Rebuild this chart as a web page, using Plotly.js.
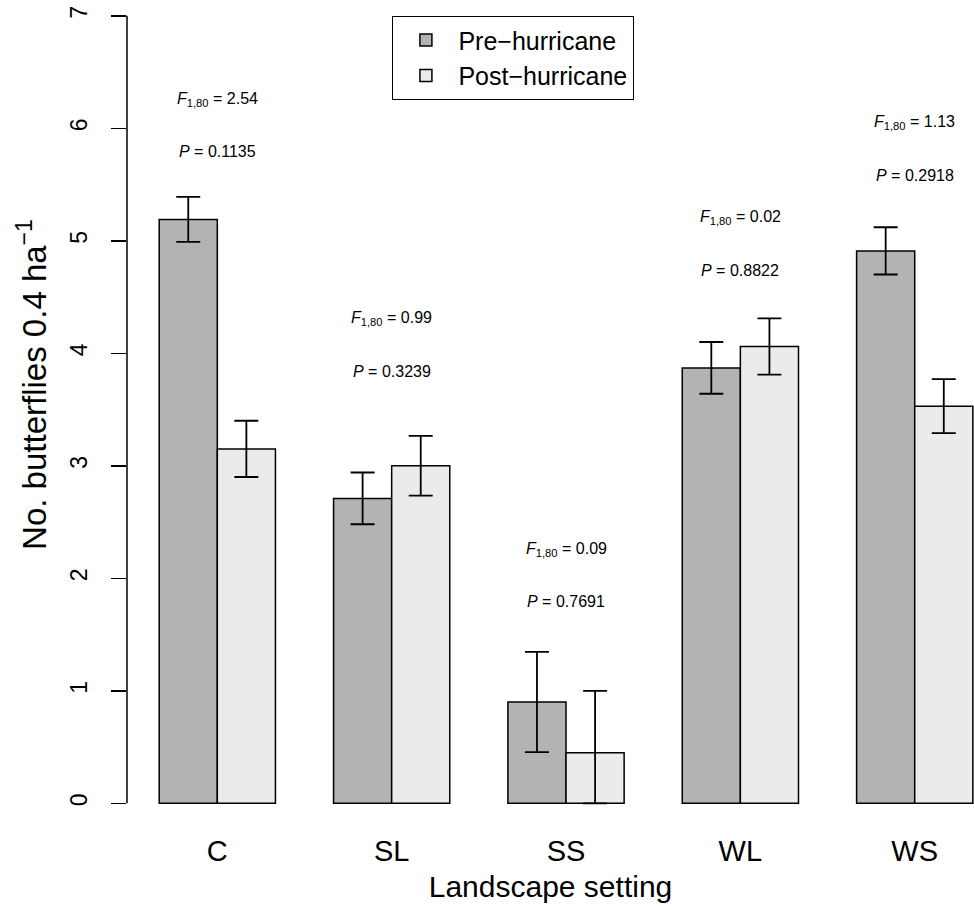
<!DOCTYPE html>
<html>
<head>
<meta charset="utf-8">
<script src="https://cdn.plot.ly/plotly-3.0.1.min.js"></script>
<style>html,body{margin:0;padding:0;background:#fff;}#chart{width:974px;height:910px;}</style>
</head>
<body>
<div id="chart"></div>
<script>
// ---- data ----
const categories = ['C', 'SL', 'SS', 'WL', 'WS'];
const seriesNames = ['Pre\u2212hurricane', 'Post\u2212hurricane'];
const preMean = [5.19, 2.71, 0.90, 3.87, 4.91];
const preErrUp = [0.20, 0.23, 0.445, 0.23, 0.21];
const preErrDown = [0.20, 0.23, 0.445, 0.23, 0.21];
const postMean = [3.15, 3.00, 0.45, 4.06, 3.53];
const postErrUp = [0.25, 0.265, 0.55, 0.25, 0.24];
const postErrDown = [0.25, 0.265, 0.45, 0.25, 0.24];
const fValues = ['2.54', '0.99', '0.09', '0.02', '1.13'];
const pValues = ['0.1135', '0.3239', '0.7691', '0.8822', '0.2918'];
const yTicks = [0, 1, 2, 3, 4, 5, 6, 7];

// ---- layout config (label heights, in axis units) ----
const fLabelY = [6.257, 4.311, 2.26, 5.208, 6.055];
const pLabelY = [5.79, 3.836, 1.792, 4.74, 5.584];

const FONT = '"Liberation Sans", Arial, Helvetica, sans-serif';

function barTrace(name, y, up, down, color) {
  return {
    type: 'bar', name: name, x: categories, y: y,
    marker: {color: color, line: {color: '#000', width: 1.5}},
    error_y: {type: 'data', symmetric: false, array: up, arrayminus: down,
              color: '#000', thickness: 1.8, width: 12},
    hoverinfo: 'skip'
  };
}

const traces = [
  barTrace(seriesNames[0], preMean, preErrUp, preErrDown, '#b3b3b5'),
  barTrace(seriesNames[1], postMean, postErrUp, postErrDown, '#ebebeb')
];

const annotations = [];
categories.forEach((c, i) => {
  annotations.push({x: c, y: fLabelY[i], xref: 'x', yref: 'y', showarrow: false,
    text: '<i>F</i><sub>1,80</sub> = ' + fValues[i], font: {family: FONT, size: 16, color: '#000'}});
  annotations.push({x: c, y: pLabelY[i], xref: 'x', yref: 'y', showarrow: false,
    text: '<i>P</i> = ' + pValues[i], font: {family: FONT, size: 16, color: '#000'}});
});
annotations.push({xref: 'paper', yref: 'y', x: -0.112, y: 3.72, textangle: -90, showarrow: false,
  xanchor: 'center', yanchor: 'middle',
  text: 'No. butterflies 0.4 ha<sup>\u22121</sup>', font: {family: FONT, size: 33, color: '#000'}});

const layout = {
  width: 974, height: 910,
  margin: {l: 127, r: 0, t: 0, b: 76},
  paper_bgcolor: '#fff', plot_bgcolor: '#fff',
  font: {family: FONT, color: '#000'},
  barmode: 'group', bargap: 1/3, bargroupgap: 0,
  showlegend: true,
  legend: {x: 0.313, y: 0.981, xanchor: 'left', yanchor: 'top', bgcolor: '#fff',
           bordercolor: '#000', borderwidth: 1.3, font: {family: FONT, size: 25, color: '#000'},
           traceorder: 'normal', itemwidth: 55},
  xaxis: {type: 'category', range: [-0.518, 4.34], showline: false, ticks: '', showgrid: false,
          zeroline: false, tickfont: {family: FONT, size: 29, color: '#000'}, ticklabelstandoff: -3,
          title: {text: 'Landscape setting', font: {family: FONT, size: 30, color: '#000'}, standoff: 9}},
  yaxis: {range: [-0.273, 7.14], tickvals: yTicks, ticktext: yTicks.map(String), ticks: 'outside',
          ticklen: 15, tickwidth: 1.5, tickcolor: '#000', tickangle: -90, showgrid: false,
          zeroline: false, showline: false, ticklabelstandoff: 15,
          tickfont: {family: FONT, size: 23, color: '#000'}},
  shapes: [{type: 'line', xref: 'paper', yref: 'y', x0: 0, x1: 0, y0: yTicks[0], y1: yTicks[yTicks.length - 1],
            line: {color: '#000', width: 1.5}}],
  annotations: annotations
};

Plotly.newPlot('chart', traces, layout, {displayModeBar: false, staticPlot: true});
</script>
</body>
</html>
